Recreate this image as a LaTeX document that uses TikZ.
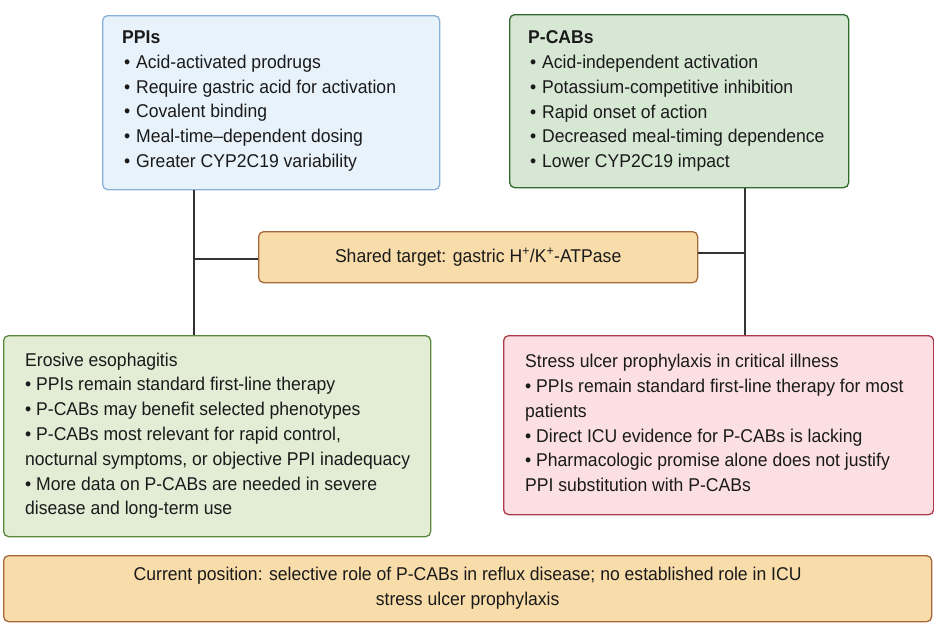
\documentclass[tikz,border=0pt]{standalone}
\usepackage{fontspec}
\setmainfont[FakeStretch=0.95]{Liberation Sans}
\definecolor{ppifill}{HTML}{E8F2FB}
\definecolor{ppidraw}{HTML}{8AAFD8}
\definecolor{pcabfill}{HTML}{D6E8D4}
\definecolor{pcabdraw}{HTML}{2F6B2F}
\definecolor{tgtfill}{HTML}{F8DCAA}
\definecolor{tgtdraw}{HTML}{A8693A}
\definecolor{erofill}{HTML}{E3EDD6}
\definecolor{erodraw}{HTML}{5A8A3A}
\definecolor{sufill}{HTML}{FBDFE2}
\definecolor{sudraw}{HTML}{B03A4A}
\definecolor{txt}{HTML}{1A1A1A}
\tikzset{
  panel/.style={draw, line width=1.3pt, rounded corners=5pt, anchor=north west, inner sep=0pt},
  body/.style={anchor=north west, inner sep=0pt, align=left, text=txt, font=\fontsize{18.5}{24.8}\selectfont},
  ctext/.style={inner sep=0pt, align=center, text=txt, font=\fontsize{18.5}{25}\selectfont},
  link/.style={draw=black!80, line width=1.2pt},
}
\newcommand{\bl}{\hspace{2pt}•\hspace{1pt} }
\begin{document}
\begin{tikzpicture}[x=1pt,y=-1pt]
\useasboundingbox (0,0) rectangle (934,625);
% boxes
\node[panel, fill=ppifill, draw=ppidraw, minimum width=337pt, minimum height=174pt] (ppi) at (102,15) {};
\node[panel, fill=pcabfill, draw=pcabdraw, minimum width=339pt, minimum height=173pt] (pcab) at (509,14) {};
\node[panel, fill=tgtfill, draw=tgtdraw, minimum width=439pt, minimum height=51pt] (tgt) at (258,231) {};
\node[panel, fill=erofill, draw=erodraw, minimum width=427pt, minimum height=201pt] (ero) at (3,335) {};
\node[panel, fill=sufill, draw=sudraw, minimum width=430pt, minimum height=179pt] (su) at (503,335) {};
\node[panel, fill=tgtfill, draw=tgtdraw, minimum width=928pt, minimum height=66pt] (pos) at (3,555) {};
% texts
\node[body] (ppit) at (122,30.5) {\textbf{PPIs}\\
\bl Acid-activated prodrugs\\
\bl Require gastric acid for activation\\
\bl Covalent binding\\
\bl Meal-time–dependent dosing\\
\bl Greater CYP2C19 variability};
\node[body] (pcabt) at (528,30.5) {\textbf{P-CABs}\\
\bl Acid-independent activation\\
\bl Potassium-competitive inhibition\\
\bl Rapid onset of action\\
\bl Decreased meal-timing dependence\\
\bl Lower CYP2C19 impact};
\node[ctext] (tgtt) at (tgt.center) {Shared target: gastric H\textsuperscript{+}/K\textsuperscript{+}-ATPase};
\node[body] (erot) at (25,352.5) {Erosive esophagitis\\
• PPIs remain standard first-line therapy\\
• P-CABs may benefit selected phenotypes\\
• P-CABs most relevant for rapid control,\\
nocturnal symptoms, or objective PPI inadequacy\\
• More data on P-CABs are needed in severe\\
disease and long-term use};
\node[body] (sut) at (525,354) {Stress ulcer prophylaxis in critical illness\\
• PPIs remain standard first-line therapy for most\\
patients\\
• Direct ICU evidence for P-CABs is lacking\\
• Pharmacologic promise alone does not justify\\
PPI substitution with P-CABs};
\node[ctext] (post) at (pos.center) {Current position: selective role of P-CABs in reflux disease; no established role in ICU\\stress ulcer prophylaxis};
% connectors
\coordinate (lj) at (194,259);
\coordinate (rj) at (745,253);
\draw[link] (ppi.south -| lj) -- (ero.north -| lj);
\draw[link] (lj) -- (tgt.west |- lj);
\draw[link] (pcab.south -| rj) -- (su.north -| rj);
\draw[link] (tgt.east |- rj) -- (rj);
\end{tikzpicture}
\end{document}
